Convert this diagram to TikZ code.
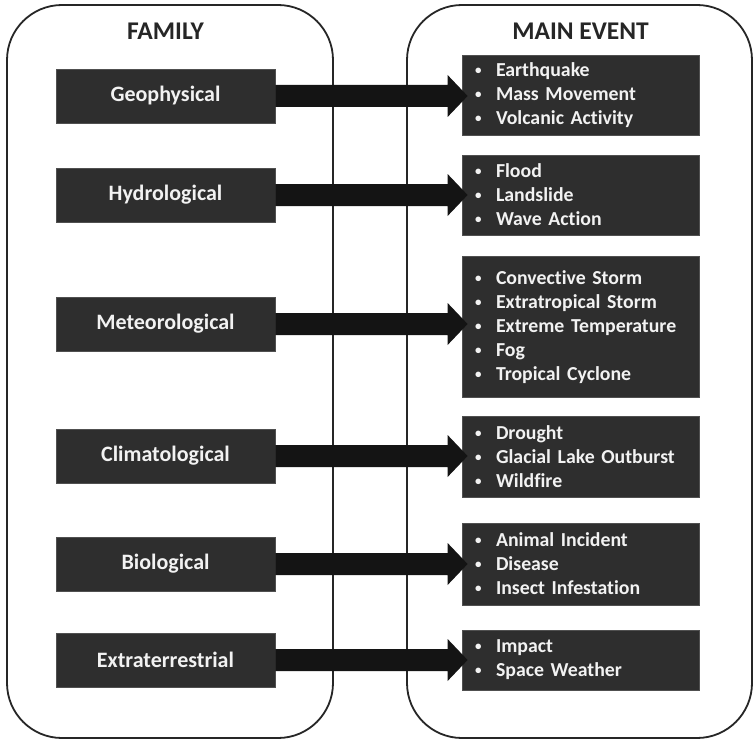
\documentclass[tikz,border=0pt]{standalone}
\usepackage{fontspec}
\setmainfont{Carlito}[Ligatures=NoCommon]
\usetikzlibrary{calc}
\definecolor{boxfill}{HTML}{2E2E2E}
\definecolor{boxedge}{HTML}{505050}
\definecolor{arrowc}{HTML}{141414}
\definecolor{txt}{HTML}{F2F2F2}
% list entry with a small bullet in front
\newcommand{\itm}[1]{\makebox[21pt][l]{\raisebox{0.22ex}{\fontsize{13}{13}\selectfont •}}#1}
\tikzset{
  panel/.style={draw=black!85, line width=1.8pt, rounded corners=55pt},
  title/.style={font=\bfseries\fontsize{25.5}{28}\selectfont, text=black!85},
  famb/.style={fill=boxfill, draw=boxedge, line width=0.8pt, minimum width=219pt,
    minimum height=54pt, inner sep=0pt, text=txt, font=\bfseries\fontsize{22}{26}\selectfont},
  evb/.style={fill=boxfill, draw=boxedge, line width=0.8pt, text width=211pt,
    inner xsep=13pt, inner ysep=0pt, align=left, text=txt,
    font=\bfseries\fontsize{19.8}{24}\selectfont},
  arr/.style={fill=arrowc}
}
\begin{document}
\begin{tikzpicture}[x=1pt,y=-1pt]
\useasboundingbox (0,0) rectangle (754,741);
\fill[white] (0,0) rectangle (754,741);
% two panels
\draw[panel] (7,5) rectangle (333,738);
\draw[panel] (407,5) rectangle (752,738);
\node[title] (tfam) at (165.5,31) {FAMILY};
\node[title] (tev) at (580.5,31) {MAIN EVENT};
% family boxes
\node[famb] (f1) at (165.5,96) {Geophysical};
\node[famb] (f2) at (165.5,195) {Hydrological};
\node[famb] (f3) at (165.5,324) {Meteorological};
\node[famb] (f4) at (165.5,456) {Climatological};
\node[famb] (f5) at (165.5,564) {Biological};
\node[famb] (f6) at (165.5,660) {Extraterrestrial};
% event boxes
\node[evb, minimum height=80pt] (e1) at (580.5,95.5)
  {\itm{Earthquake}\\\itm{Mass Movement}\\\itm{Volcanic Activity}};
\node[evb, minimum height=80pt] (e2) at (580.5,195)
  {\itm{Flood}\\\itm{Landslide}\\\itm{Wave Action}};
\node[evb, minimum height=141pt] (e3) at (580.5,327)
  {\itm{Convective Storm}\\\itm{Extratropical Storm}\\\itm{Extreme Temperature}\\\itm{Fog}\\\itm{Tropical Cyclone}};
\node[evb, minimum height=81pt] (e4) at (580.5,456.5)
  {\itm{Drought}\\\itm{Glacial Lake Outburst}\\\itm{Wildfire}};
\node[evb, minimum height=82pt] (e5) at (580.5,564)
  {\itm{Animal Incident}\\\itm{Disease}\\\itm{Insect Infestation}};
\node[evb, minimum height=60pt] (e6) at (580.5,660)
  {\itm{Impact}\\\itm{Space Weather}};
% block arrows from family to main event
\foreach \i in {1,...,6}{
  \fill[arr] ($(f\i.east)+(0,-11)$) -- ($(f\i.east -| e\i.west)+(-14,-11)$)
    -- ++(0,-10) -- ($(f\i.east -| e\i.west)+(6,0)$)
    -- ($(f\i.east -| e\i.west)+(-14,21)$) -- ++(0,-10)
    -- ($(f\i.east)+(0,11)$) -- cycle;
}
\end{tikzpicture}
\end{document}
